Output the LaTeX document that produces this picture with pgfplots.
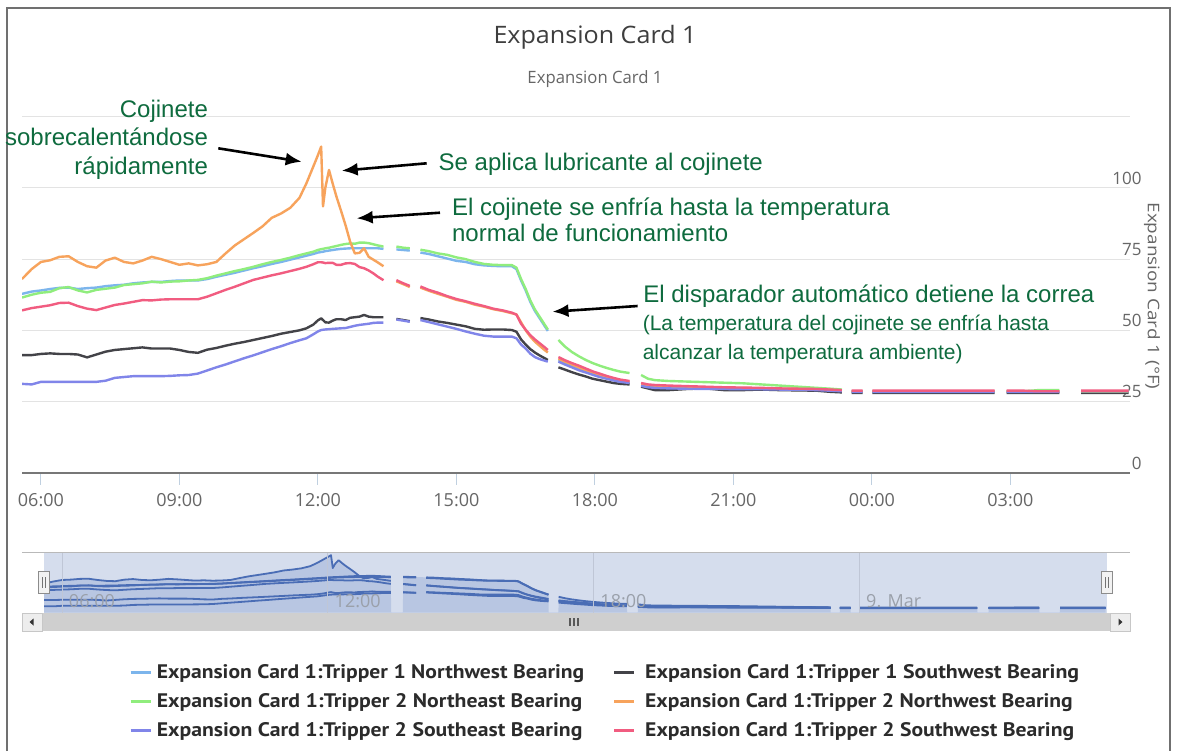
\documentclass[border=0pt]{standalone}
\usepackage{fontspec}
\setmainfont{Liberation Sans}
\newfontfamily\uifont{Open Sans}
\newfontfamily\lgfont{PT Sans}
\usepackage{graphicx}
\usepackage{pgfplots}
\usepackage{pgfplotstable}
\pgfplotsset{compat=1.18}
\usetikzlibrary{arrows.meta}
\definecolor{c1}{HTML}{7CB5EC}
\definecolor{c2}{HTML}{434348}
\definecolor{c3}{HTML}{90ED7D}
\definecolor{c4}{HTML}{F7A35C}
\definecolor{c5}{HTML}{8085E9}
\definecolor{c6}{HTML}{F15C80}
\definecolor{anngreen}{HTML}{0E6B3E}
\definecolor{titlegray}{HTML}{3E3E3E}
\definecolor{tickgray}{HTML}{666666}
\definecolor{gridgray}{HTML}{E3E3E3}
\definecolor{axisgray}{HTML}{777777}
\definecolor{tickblue}{HTML}{C0D0E0}
\definecolor{framegray}{HTML}{707070}
\definecolor{navmask}{HTML}{D5DDED}
\definecolor{navfill}{HTML}{B8C6E2}
\definecolor{navline}{HTML}{4A6DB5}
\definecolor{navgrid}{HTML}{BFC6D6}
\definecolor{navlabel}{HTML}{9AA0AA}
\definecolor{legtext}{HTML}{2B2B2B}
\newcommand{\fitw}[2]{\resizebox{#1}{\height}{#2}}

\pgfplotstableread{
h b1 k1 g2 o2 p2 r2 env
5.59 62.8 41.3 61.5 68.0 31.2 57.0 68.0
5.8 63.6 41.3 62.5 71.5 31.0 57.8 71.5
6.0 64.0 41.7 63.2 74.0 31.9 58.3 74.0
6.2 64.5 41.9 63.5 74.6 31.9 58.8 74.6
6.4 64.9 41.7 64.8 75.8 31.9 59.6 75.8
6.6 65.0 41.7 65.2 76.0 31.9 59.7 76.0
6.8 64.5 41.5 64.0 74.0 31.9 58.5 74.0
7.0 64.8 40.5 63.3 72.5 31.9 57.6 72.5
7.2 65.0 41.5 64.2 72.0 31.9 57.1 72.0
7.4 65.5 42.5 64.6 74.5 32.3 58.0 74.5
7.6 65.8 43.1 65.0 75.5 33.3 58.9 75.5
7.8 66.0 43.4 65.9 74.0 33.6 59.4 74.0
8.0 66.5 43.7 66.2 73.5 33.9 60.0 73.5
8.2 66.8 44.0 66.5 74.5 33.9 60.6 74.5
8.4 67.0 43.6 67.1 75.8 33.9 60.5 75.8
8.6 67.0 43.6 66.8 75.0 33.9 60.8 75.0
8.8 67.3 43.6 67.1 74.0 34.0 60.9 74.0
9.0 67.5 43.1 67.2 73.0 34.2 60.9 73.0
9.2 67.5 42.4 67.5 73.5 34.3 60.9 73.5
9.4 67.5 42.1 67.7 72.8 34.8 60.9 72.8
9.6 68.0 43.2 68.3 73.2 35.9 61.8 73.2
9.8 68.8 43.8 69.2 74.0 37.0 63.0 74.0
10.0 69.5 44.6 70.0 77.0 38.0 64.2 77.0
10.2 70.2 45.3 70.8 79.8 39.1 65.3 79.8
10.4 71.0 45.9 71.5 82.0 40.2 66.5 82.0
10.6 71.8 46.6 72.3 84.2 41.2 67.7 84.2
10.8 72.5 47.3 73.2 86.5 42.3 68.5 86.5
11.0 73.3 48.0 74.0 89.5 43.4 69.3 89.5
11.2 74.0 48.8 74.7 91.0 44.4 70.0 91.0
11.4 74.8 49.4 75.5 93.0 45.5 70.8 93.0
11.6 75.6 50.0 76.4 96.5 46.5 71.6 96.5
11.75 76.2 50.7 77.0 101.6 47.2 72.3 101.6
11.9 76.8 52.0 77.6 107.5 48.6 73.2 107.5
12.0 77.3 53.5 78.2 111.5 49.6 73.9 111.5
12.07 77.5 54.2 78.5 114.5 50.1 73.9 114.5
12.11 77.6 53.6 78.6 93.5 50.2 73.8 93.5
12.16 77.8 52.8 78.8 100.0 50.3 73.6 100.0
12.24 78.0 52.7 79.0 106.3 50.4 73.7 106.3
12.32 78.2 53.4 79.3 101.5 50.5 73.7 101.5
12.4 78.4 53.9 79.6 97.0 50.6 73.0 97.0
12.5 78.6 53.9 80.0 92.0 50.7 73.0 92.0
12.6 78.7 53.6 80.3 86.8 50.8 73.5 86.8
12.7 78.8 54.4 80.5 81.0 51.2 73.6 81.0
12.8 78.8 54.6 80.4 77.0 51.6 73.3 80.4
12.9 78.8 54.8 80.8 77.2 51.9 72.2 80.8
13.0 78.8 55.4 80.8 78.8 52.1 71.8 80.8
13.1 78.8 54.8 80.6 75.8 52.3 71.0 80.6
13.2 78.8 54.6 80.2 74.8 52.6 70.0 80.2
13.3 78.8 54.6 79.8 73.8 52.7 68.8 79.8
13.42 78.6 54.6 79.4 72.5 52.7 67.6 79.4
13.43 nan nan nan nan nan nan 0
13.69 nan nan nan nan nan nan 0
13.70 78.4 54.0 79.4 67.2 53.8 67.6 79.4
13.85 78.2 53.6 79.0 66.2 53.4 66.5 79.0
13.99 78.0 53.2 78.8 65.2 53.0 65.6 78.8
14.00 nan nan nan nan nan nan 0
14.21 nan nan nan nan nan nan 0
14.22 77.3 54.3 78.3 65.0 53.6 65.4 78.3
14.4 76.8 53.8 77.8 63.9 52.9 64.2 77.8
14.6 76.0 53.1 77.0 62.8 52.1 63.2 77.0
14.8 75.2 52.6 76.5 61.8 51.3 62.0 76.5
15.0 74.4 52.0 75.6 60.7 50.5 61.0 75.6
15.2 74.0 51.4 75.0 60.0 49.6 60.2 75.0
15.4 73.2 50.5 74.0 59.0 48.8 59.3 74.0
15.6 72.8 50.2 73.3 58.3 48.1 58.5 73.3
15.8 72.6 50.3 73.0 57.4 47.8 57.6 73.0
16.0 72.5 50.3 72.9 56.8 47.8 57.0 72.9
16.2 72.5 50.1 72.9 56.0 47.8 56.2 72.9
16.3 71.5 49.5 72.0 55.6 47.2 55.5 72.0
16.4 67.5 46.8 68.0 52.8 45.0 52.3 68.0
16.5 64.0 45.0 64.5 50.0 43.6 50.2 64.5
16.6 60.0 43.4 60.5 47.8 41.8 48.3 60.5
16.7 56.8 42.2 57.3 46.0 40.6 46.8 57.3
16.8 54.3 41.2 54.8 44.6 39.9 45.5 54.8
16.9 51.8 40.3 52.3 43.2 39.4 44.2 52.3
16.98 49.8 39.6 50.3 42.2 39.0 43.1 50.3
16.99 nan nan nan nan nan nan 0
17.20 nan nan nan nan nan nan 0
17.21 39.5 37.0 46.6 40.0 39.0 40.6 46.6
17.35 38.4 36.2 44.3 39.0 38.0 39.5 44.3
17.5 37.4 35.3 42.4 38.0 37.0 38.5 42.4
17.65 36.5 34.5 40.9 37.0 36.0 37.6 40.9
17.8 35.6 33.8 39.6 36.0 35.2 36.6 39.6
17.95 34.8 33.0 38.5 35.2 34.4 35.6 38.5
18.1 34.0 32.5 37.6 34.4 33.6 34.8 37.6
18.25 33.3 32.0 36.8 33.6 33.0 34.0 36.8
18.4 32.7 31.5 36.1 33.0 32.4 33.3 36.1
18.55 32.2 31.2 35.5 32.5 31.9 32.7 35.5
18.75 31.8 31.0 35.0 32.0 31.5 32.2 35.0
18.76 nan nan nan nan nan nan 0
18.99 nan nan nan nan nan nan 0
19.0 30.8 30.2 34.3 31.0 30.5 31.5 34.3
19.15 30.5 29.6 33.0 30.6 30.0 31.0 33.0
19.3 30.3 29.0 32.5 30.4 29.8 30.8 32.5
19.6 30.0 29.0 32.2 30.3 29.6 30.6 32.2
20.0 29.8 29.4 32.0 30.0 29.5 30.4 32.0
20.4 29.7 29.6 31.8 30.0 29.4 30.2 31.8
20.8 29.6 29.0 31.6 29.8 29.4 30.0 31.6
21.2 29.5 29.0 31.4 29.7 29.3 29.9 31.4
21.6 29.5 29.2 31.0 29.6 29.3 29.8 31.0
22.0 29.4 29.0 30.6 29.5 29.2 29.6 30.6
22.4 29.3 28.9 30.2 29.4 29.2 29.5 30.2
22.8 29.2 28.8 29.8 29.3 29.0 29.4 29.8
23.1 29.0 28.4 29.5 29.1 28.8 29.2 29.5
23.35 28.8 28.2 29.2 28.8 28.6 29.0 29.2
23.36 nan nan nan nan nan nan 0
23.55 nan nan nan nan nan nan 0
23.56 28.5 28.0 28.6 28.6 28.4 28.8 28.8
23.80 28.5 28.0 28.6 28.6 28.4 28.8 28.8
23.81 nan nan nan nan nan nan 0
24.00 nan nan nan nan nan nan 0
24.01 28.4 28.0 28.5 28.6 28.4 28.8 28.8
24.6 28.4 28.0 28.5 28.6 28.4 28.8 28.8
25.2 28.4 28.0 28.5 28.6 28.4 28.8 28.8
25.8 28.4 28.0 28.5 28.6 28.4 28.8 28.8
26.3 28.4 28.0 28.5 28.6 28.4 28.8 28.8
26.66 28.4 28.0 28.5 28.6 28.4 28.8 28.8
26.67 nan nan nan nan nan nan 0
26.91 nan nan nan nan nan nan 0
26.92 28.4 28.0 28.6 28.6 28.4 28.8 28.8
27.3 28.4 28.0 28.6 28.6 28.4 28.8 28.8
27.6 28.4 28.0 29.0 28.6 28.4 28.6 29.0
28.06 28.4 28.0 29.0 28.6 28.4 28.6 29.0
28.07 nan nan nan nan nan nan 0
28.52 nan nan nan nan nan nan 0
28.53 28.4 28.0 28.5 28.6 28.6 28.8 28.8
29.0 28.4 28.0 28.5 28.6 28.6 28.8 28.8
29.56 28.4 28.0 28.5 28.6 28.6 28.8 28.8
}\data

\begin{document}
\begin{tikzpicture}
\useasboundingbox (0,0) rectangle (589.5pt,-375.5pt);
\fill[white] (0,0) rectangle (589.5pt,-375.5pt);
\begin{scope}[x=0.5pt,y=-0.5pt]
  % frame
  \draw[framegray, line width=0.9pt] (7,751) -- (7,8) -- (1170,8) -- (1170,751);
  % titles
  \node[anchor=base, inner sep=0pt, text=titlegray, font=\uifont\fontsize{12pt}{14pt}\selectfont] at (595,43.5) {\fitw{101.5pt}{Expansion Card 1}};
  \node[anchor=base, inner sep=0pt, text=tickgray, font=\uifont\fontsize{8.5pt}{10pt}\selectfont] at (595,83.3) {\fitw{67.5pt}{Expansion Card 1}};
  % y axis title
  \node[rotate=-90, inner sep=0pt, text=tickgray, font=\uifont\fontsize{8pt}{9pt}\selectfont] at (1152,296) {\fitw{93.5pt}{Expansion Card 1 (°F)}};
  % navigator background
  \draw[gray!55, line width=0.5pt] (22,552.7) -- (1130,552.7);
  \fill[navmask] (44,552.7) rectangle (1107,612.7);
  % scrollbar
  \fill[black!19] (42,613) rectangle (1110,631);
  \filldraw[fill=black!7, draw=black!22, line width=0.5pt] (22,613) rectangle (42,631);
  \filldraw[fill=black!7, draw=black!22, line width=0.5pt] (1110,613) rectangle (1130,631);
  \fill[black!80] (29.5,622) -- (33.5,618.5) -- (33.5,625.5) -- cycle;
  \fill[black!80] (1122.5,622) -- (1118.5,618.5) -- (1118.5,625.5) -- cycle;
  \draw[black!65, line width=0.6pt] (570,618) -- (570,626) (574,618) -- (574,626) (578,618) -- (578,626);
\end{scope}

\begin{axis}[
  at={(11pt,-236.35pt)}, anchor=south west,
  width=554pt, height=178pt, scale only axis,
  xmin=5.59, xmax=29.59, ymin=0, ymax=125,
  unbounded coords=jump,
  axis x line*=bottom, axis y line*=right,
  x axis line style={draw=axisgray, line width=1pt, -},
  y axis line style={draw=none, -},
  xtick={6,9,12,15,18,21,24,27},
  xticklabels={06:00,09:00,12:00,15:00,18:00,21:00,00:00,03:00},
  ytick={0,25,50,75,100,125},
  yticklabels={0,25,50,75,100,{}},
  ymajorgrids,
  grid style={draw=gridgray, line width=0.5pt},
  tick align=outside,
  major tick length=6pt,
  xtick style={draw=tickblue, line width=0.5pt},
  ytick style={draw=none},
  xticklabel style={font=\uifont\fontsize{9pt}{10pt}\selectfont, text=tickgray, inner sep=0pt, anchor=north, yshift=-4.4pt},
  yticklabel style={font=\uifont\fontsize{8.5pt}{10pt}\selectfont, text=tickgray, inner sep=0pt, anchor=south east, yshift=1.5pt},
  /pgf/number format/assume math mode=true,
  legend columns=2,
  legend cell align=left,
  legend style={at={(0.09657,-0.5337)}, anchor=north west, draw=none, fill=none, inner sep=0pt,
    column sep=2.5pt, row sep=5.0pt,
    nodes={inner sep=0pt, text height=7.5pt, text depth=2pt, text=legtext, font=\lgfont\bfseries\fontsize{9.8pt}{11pt}\selectfont}},
  legend image code/.code={\draw[#1, line width=1.2pt] (0pt,0pt) -- (10pt,0pt);},
  every axis plot/.append style={line width=1.2pt, line join=round},
]
\draw[tickblue, line width=0.6pt] ([yshift=-1.8pt]rel axis cs:0,0) -- ([yshift=-1.8pt]rel axis cs:1,0);
\addplot[c1] table[x=h,y=b1]{\data};
\addlegendentry{\makebox[225.5pt][l]{\fitw{213.75pt}{Expansion Card 1:Tripper 1 Northwest Bearing}}}
\addplot[c2] table[x=h,y=k1]{\data};
\addlegendentry{\hspace*{2.5pt}\fitw{217pt}{Expansion Card 1:Tripper 1 Southwest Bearing}}
\addplot[c3] table[x=h,y=g2]{\data};
\addlegendentry{\makebox[225.5pt][l]{\fitw{212.8pt}{Expansion Card 1:Tripper 2 Northeast Bearing}}}
\addplot[c4] table[x=h,y=o2]{\data};
\addlegendentry{\hspace*{2.5pt}\fitw{213.8pt}{Expansion Card 1:Tripper 2 Northwest Bearing}}
\addplot[c5] table[x=h,y=p2]{\data};
\addlegendentry{\makebox[225.5pt][l]{\fitw{212.8pt}{Expansion Card 1:Tripper 2 Southeast Bearing}}}
\addplot[c6] table[x=h,y=r2]{\data};
\addlegendentry{\hspace*{2.5pt}\fitw{214.5pt}{Expansion Card 1:Tripper 2 Southwest Bearing}}
\end{axis}

\begin{axis}[
  at={(22pt,-306.35pt)}, anchor=south west,
  width=531.5pt, height=30pt, scale only axis,
  xmin=5.59, xmax=29.59, ymin=20.6, ymax=118.5,
  unbounded coords=jump,
  skip coords between index={55}{57},
  axis on top,
  axis line style={draw=none},
  xtick={6,12,18,24}, xticklabels={06:00,12:00,18:00,9. Mar},
  ytick=\empty,
  xmajorgrids, grid style={draw=navgrid, line width=0.5pt},
  major tick length=0pt, tick style={draw=none},
  xticklabel style={font=\uifont\fontsize{9pt}{10pt}\selectfont, text=navlabel, inner sep=0pt, anchor=base west, xshift=3.2pt, yshift=2.4pt},
  every axis plot/.append style={line width=0.9pt, line join=round},
]
\addplot[fill=navfill, draw=none] table[x=h,y=env]{\data} \closedcycle;
\addplot[navline] table[x=h,y=b1]{\data};
\addplot[navline] table[x=h,y=k1]{\data};
\addplot[navline] table[x=h,y=g2]{\data};
\addplot[navline] table[x=h,y=o2]{\data};
\addplot[navline] table[x=h,y=p2]{\data};
\addplot[navline] table[x=h,y=r2]{\data};
\end{axis}

\begin{scope}[x=0.5pt,y=-0.5pt]
  % navigator handles
  \filldraw[fill=black!5, draw=black!45, line width=0.5pt] (38.5,571.5) rectangle (49.5,593.5);
  \draw[black!55, line width=0.5pt] (42.5,577) -- (42.5,588) (45.5,577) -- (45.5,588);
  \filldraw[fill=black!5, draw=black!45, line width=0.5pt] (1101.5,571.5) rectangle (1112.5,593.5);
  \draw[black!55, line width=0.5pt] (1105.5,577) -- (1105.5,588) (1108.5,577) -- (1108.5,588);
  % annotations
  \begin{scope}[every node/.style={inner sep=0pt, text=anngreen, font=\fontsize{12pt}{14pt}\selectfont}]
    \node[anchor=base east] at (208.3,117.4) {Cojinete};
    \node[anchor=base east] at (208.3,145.7) {sobrecalentándose};
    \node[anchor=base east] at (208.3,174) {rápidamente};
    \node[anchor=base west] at (438.3,170) {Se aplica lubricante al cojinete};
    \node[anchor=base west] at (451.7,215) {El cojinete se enfría hasta la temperatura};
    \node[anchor=base west] at (451.7,241.7) {normal de funcionamiento};
    \node[anchor=base west] at (643,302.7) {El disparador automático detiene la correa};
    \node[anchor=base west, font=\fontsize{10.5pt}{12pt}\selectfont] at (642.4,330.7) {(La temperatura del cojinete se enfría hasta};
    \node[anchor=base west, font=\fontsize{10.5pt}{12pt}\selectfont] at (642.4,359.3) {alcanzar la temperatura ambiente)};
  \end{scope}
  \begin{scope}[line width=1.3pt, -{Latex[length=8pt,width=6.5pt]}]
    \draw (218.3,148.3) -- (301.7,161.7);
    \draw (426.7,163.3) -- (341.7,170.7);
    \draw (440,212.7) -- (356.7,218.3);
    \draw (637.6,306) -- (552.5,311.7);
  \end{scope}
\end{scope}
\end{tikzpicture}
\end{document}
